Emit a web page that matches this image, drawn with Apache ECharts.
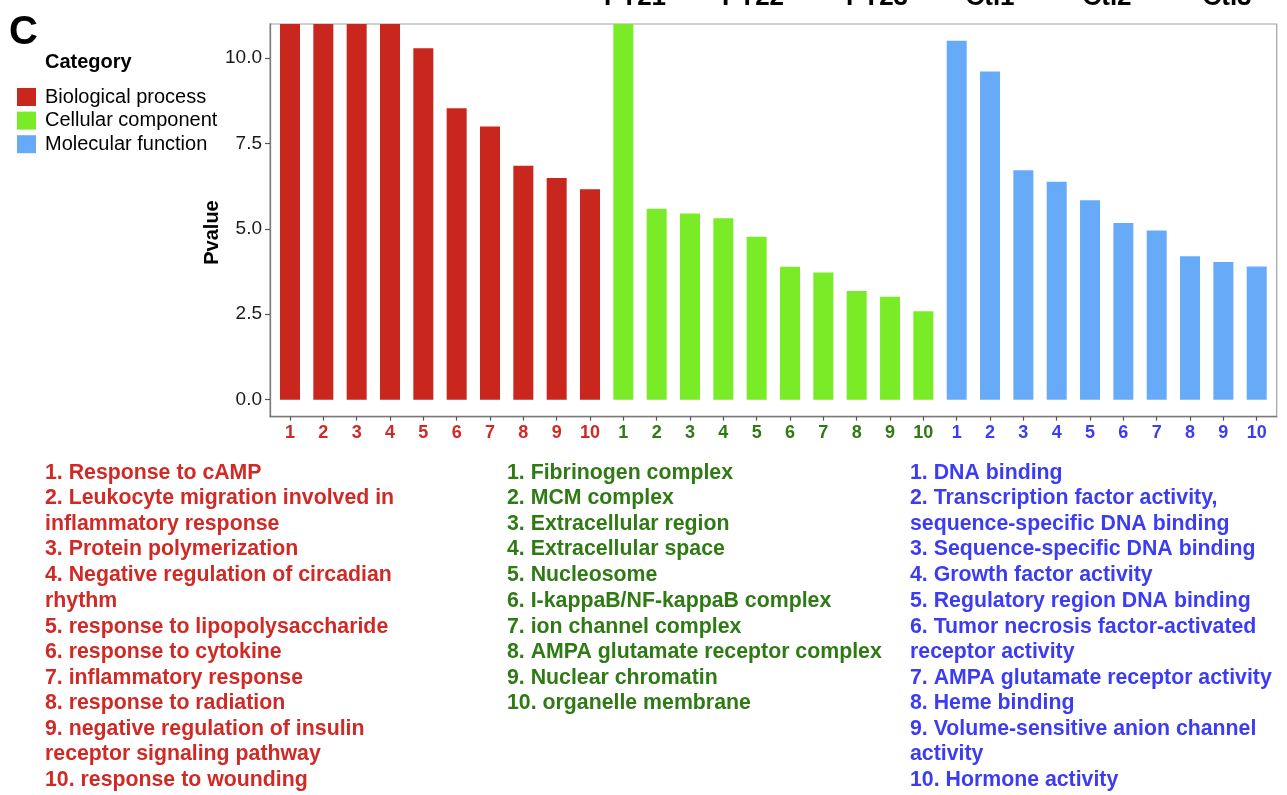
<!DOCTYPE html>
<html>
<head>
<meta charset="utf-8">
<script src="https://cdn.jsdelivr.net/npm/echarts@6/dist/echarts.min.js"></script>
<style>
  html, body { margin: 0; padding: 0; background: #fff; }
  #chart { width: 1287px; height: 795px; }
</style>
</head>
<body>
<div id="chart"></div>
<script>
// GO enrichment: -log10 P values for the top 10 terms of each category
const groups = ['Biological process', 'Cellular component', 'Molecular function'];
const rankLabels = ['1', '2', '3', '4', '5', '6', '7', '8', '9', '10'];
const bpValues = [14.6, 13.7, 12.9, 12.0, 10.29, 8.53, 8.00, 6.85, 6.49, 6.16];
const ccValues = [12.4, 5.59, 5.45, 5.31, 4.77, 3.89, 3.72, 3.18, 3.01, 2.59];
const mfValues = [10.51, 9.61, 6.72, 6.38, 5.84, 5.17, 4.95, 4.20, 4.03, 3.90];
const yTicks = [0, 2.5, 5, 7.5, 10];
const sampleLabels = ['PT21', 'PT22', 'PT23', 'Ctl1', 'Ctl2', 'Ctl3'];

// term descriptions, one entry per printed line
const bpTerms = [
  '1. Response to cAMP',
  '2. Leukocyte migration involved in',
  'inflammatory response',
  '3. Protein polymerization',
  '4. Negative regulation of circadian',
  'rhythm',
  '5. response to lipopolysaccharide',
  '6. response to cytokine',
  '7. inflammatory response',
  '8. response to radiation',
  '9. negative regulation of insulin',
  'receptor signaling pathway',
  '10. response to wounding'
];
const ccTerms = [
  '1. Fibrinogen complex',
  '2. MCM complex',
  '3. Extracellular region',
  '4. Extracellular space',
  '5. Nucleosome',
  '6. I-kappaB/NF-kappaB complex',
  '7. ion channel complex',
  '8. AMPA glutamate receptor complex',
  '9. Nuclear chromatin',
  '10. organelle membrane'
];
const mfTerms = [
  '1. DNA binding',
  '2. Transcription factor activity,',
  'sequence-specific DNA binding',
  '3. Sequence-specific DNA binding',
  '4. Growth factor activity',
  '5. Regulatory region DNA binding',
  '6. Tumor necrosis factor-activated',
  'receptor activity',
  '7. AMPA glutamate receptor activity',
  '8. Heme binding',
  '9. Volume-sensitive anion channel',
  'activity',
  '10. Hormone activity'
];

// ---- styling / layout ----
const FONT = '"Liberation Sans", Arial, Helvetica, sans-serif';
const barColors = ['#c9261d', '#7aec27', '#67abf8'];
const textColors = ['#d02a26', '#2f7a14', '#3c3cf2'];
const lineCenters = [473, 498.5, 524, 549.5, 575, 601.5, 627, 652.5, 678, 703.5, 729, 754.5, 780.5];
const columnLeft = [45, 507, 910];
const sampleCenters = [635, 753, 877, 990, 1107, 1227];

const allValues = [bpValues, ccValues, mfValues];
const positions = [];
for (let i = 1; i <= 30; i++) positions.push(i);

const series = groups.map((name, g) => ({
  name: name,
  type: 'bar',
  barWidth: 20,
  barGap: '-100%',
  clip: true,
  itemStyle: { color: barColors[g] },
  data: allValues[g].map((v, i) => [g * 10 + i + 1, v])
}));

const rich = {};
textColors.forEach((c, g) => {
  rich['g' + g] = { color: c, fontWeight: 'bold', fontSize: 18, fontFamily: FONT };
});

const graphics = [];
// panel letter
graphics.push({
  type: 'text', left: 9, top: 13,
  style: { text: 'C', font: 'bold 40px ' + FONT, fill: '#000' }
});
// legend heading
graphics.push({
  type: 'text', x: 45, y: 62,
  style: { text: 'Category', font: 'bold 20px ' + FONT, fill: '#000', verticalAlign: 'middle' }
});
// y axis title
graphics.push({
  type: 'text', x: 212, y: 232.5, rotation: Math.PI / 2,
  style: { text: 'Pvalue', font: 'bold 20px ' + FONT, fill: '#000', align: 'center', verticalAlign: 'middle' }
});
// sample names along the top edge
sampleLabels.forEach((s, i) => {
  graphics.push({
    type: 'text', x: sampleCenters[i], y: -2,
    style: { text: s, font: 'bold 26px ' + FONT, fill: '#000', align: 'center', verticalAlign: 'middle' }
  });
});
// term description columns
[bpTerms, ccTerms, mfTerms].forEach((lines, g) => {
  lines.forEach((t, k) => {
    graphics.push({
      type: 'text', x: columnLeft[g], y: lineCenters[k],
      style: { text: t, font: 'bold 21.3px ' + FONT, fill: textColors[g], verticalAlign: 'middle' }
    });
  });
});

const chart = echarts.init(document.getElementById('chart'), null, { renderer: 'canvas' });
chart.setOption({
  backgroundColor: '#fff',
  animation: false,
  grid: {
    left: 270, top: 24, right: 10.3, bottom: 378.3,
    show: true, borderColor: '#a0a0a0', borderWidth: 1.2, backgroundColor: '#fff'
  },
  legend: {
    orient: 'vertical', left: 17, top: 87, padding: 0,
    icon: 'rect', itemWidth: 19, itemHeight: 18, itemGap: 3.6,
    selectedMode: false,
    textStyle: { fontSize: 20, fontFamily: FONT, color: '#000', padding: [0, 0, 0, 4] },
    data: groups
  },
  xAxis: {
    type: 'value', min: 0.4, max: 30.6,
    splitLine: { show: false },
    axisLine: { show: true, onZero: false, lineStyle: { color: '#7a7a7a', width: 1.3 } },
    axisTick: { show: true, length: 4, customValues: positions, lineStyle: { color: '#555', width: 1.2 } },
    axisLabel: {
      customValues: positions, margin: 7,
      formatter: function (v) {
        const idx = Math.round(v) - 1;
        const g = Math.floor(idx / 10);
        return '{g' + g + '|' + rankLabels[idx % 10] + '}';
      },
      rich: rich
    }
  },
  yAxis: {
    type: 'value', min: -0.5, max: 11,
    splitLine: { show: false },
    axisLine: { show: true, onZero: false, lineStyle: { color: '#7a7a7a', width: 1.3 } },
    axisTick: { show: true, length: 5, customValues: yTicks, lineStyle: { color: '#555', width: 1.2 } },
    axisLabel: {
      customValues: yTicks, margin: 8,
      formatter: function (v) { return v.toFixed(1); },
      fontSize: 19, fontFamily: FONT, color: '#1a1a1a'
    }
  },
  series: series,
  graphic: graphics
});
</script>
</body>
</html>
